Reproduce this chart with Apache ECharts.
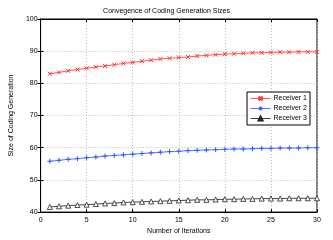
<!DOCTYPE html>
<html><head><meta charset="utf-8">
<script src="https://cdn.jsdelivr.net/npm/echarts@6/dist/echarts.min.js"></script>
<style>html,body{margin:0;padding:0;background:#fff}#c{width:333px;height:240px}</style>
</head><body><div id="c"></div>
<script>
var iterations = [];
for (var i = 1; i <= 30; i++) iterations.push(i);
var receiver1 = [83.0,83.4,83.9,84.3,84.7,85.1,85.4,85.8,86.2,86.5,86.9,87.2,87.6,87.8,88.0,88.2,88.5,88.7,88.9,89.1,89.2,89.3,89.5,89.5,89.6,89.7,89.7,89.8,89.8,89.8];
var receiver2 = [55.8,56.1,56.4,56.6,56.9,57.1,57.4,57.6,57.8,58.0,58.2,58.4,58.6,58.8,58.9,59.1,59.2,59.3,59.4,59.5,59.6,59.6,59.7,59.8,59.8,59.9,59.9,59.9,60.0,60.0];
var receiver3 = [41.6,41.8,42.0,42.2,42.3,42.5,42.7,42.8,43.0,43.1,43.2,43.3,43.4,43.5,43.6,43.7,43.8,43.8,43.9,44.0,44.0,44.1,44.1,44.2,44.2,44.2,44.3,44.3,44.3,44.3];
var seriesNames = ['Receiver 1','Receiver 2','Receiver 3'];
var titleText = 'Convegence of Coding Generation Sizes';
var xName = 'Number of Iterations';
var yName = 'Size of Coding Generation';

var FONT = 'Liberation Sans';
function pairs(arr){ return arr.map(function(v,i){ return [iterations[i], v]; }); }
var lbl = {fontFamily: FONT, fontSize: 7, color: '#000'};
var split = {show: true, lineStyle: {color: '#bbb', type: [1,2], width: 1}};

var chart = echarts.init(document.getElementById('c'));
chart.setOption({
  animation: false,
  backgroundColor: '#fff',
  title: {text: titleText, left: 'center', top: 3, textStyle: {fontFamily: FONT, fontSize: 7, fontWeight: 'normal', color: '#000'}},
  grid: {left: 31, right: 16, top: 19, bottom: 19, show: true, borderColor: '#000', borderWidth: 1, backgroundColor: 'transparent'},
  legend: {
    data: seriesNames, orient: 'vertical', right: 23, top: 92,
    backgroundColor: '#fff', borderColor: '#000', borderWidth: 1,
    padding: [3, 3, 3, 3], itemGap: 3, itemWidth: 20, itemHeight: 5,
    lineStyle: {width: 1},
    textStyle: {fontFamily: FONT, fontSize: 7, color: '#000', padding: [0,0,0,-2]}
  },
  xAxis: [{
    type: 'value', min: 0, max: 30, interval: 5, position: 'bottom',
    name: xName, nameLocation: 'middle', nameGap: 10,
    nameTextStyle: {fontFamily: FONT, fontSize: 7, color: '#000'},
    axisLine: {show: true, lineStyle: {color: '#000'}},
    axisTick: {show: true, inside: true, length: 3, lineStyle: {color: '#000'}},
    axisLabel: Object.assign({margin: 4}, lbl),
    splitLine: split
  },{
    type: 'value', min: 0, max: 30, interval: 5, position: 'top',
    axisLine: {show: true, lineStyle: {color: '#000'}},
    axisTick: {show: true, inside: true, length: 3, lineStyle: {color: '#000'}},
    axisLabel: {show: false}, splitLine: {show: false}
  }],
  yAxis: [{
    type: 'value', min: 40, max: 100, interval: 10, position: 'left',
    name: yName, nameLocation: 'middle', nameGap: 19,
    nameTextStyle: {fontFamily: FONT, fontSize: 7, color: '#000'},
    axisLine: {show: true, lineStyle: {color: '#000'}},
    axisTick: {show: true, inside: true, length: 3, lineStyle: {color: '#000'}},
    axisLabel: Object.assign({margin: 3}, lbl),
    splitLine: split
  },{
    type: 'value', min: 40, max: 100, interval: 10, position: 'right',
    axisLine: {show: true, lineStyle: {color: '#000'}},
    axisTick: {show: true, inside: true, length: 3, lineStyle: {color: '#000'}},
    axisLabel: {show: false}, splitLine: {show: false}
  }],
  series: [
    {name: seriesNames[0], type: 'line', data: pairs(receiver1),
     symbol: 'path://M0,0L10,10M10,0L0,10', symbolSize: 4,
     itemStyle: {color: '#ff3333', borderColor: '#ff3333', borderWidth: 1},
     lineStyle: {color: '#ff5555', width: 1}},
    {name: seriesNames[1], type: 'line', data: pairs(receiver2),
     symbol: 'path://M5,0L5,10M0,5L10,5', symbolSize: 5,
     itemStyle: {color: '#3355ff', borderColor: '#3355ff', borderWidth: 1},
     lineStyle: {color: '#5577ff', width: 1}},
    {name: seriesNames[2], type: 'line', data: pairs(receiver3),
     symbol: 'triangle', symbolSize: 5,
     itemStyle: {color: '#fff', borderColor: '#222', borderWidth: 0.8},
     lineStyle: {color: '#444', width: 1}}
  ]
});
</script></body></html>
